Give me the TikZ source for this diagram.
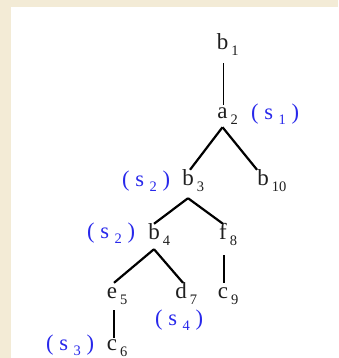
\documentclass[tikz,border=0pt]{standalone}
\usepackage{fontspec}
\setmainfont{Liberation Serif}
\definecolor{bgbeige}{RGB}{243,235,214}
\definecolor{lblblue}{RGB}{40,40,235}
\newcommand\tsub[1]{\rlap{\hspace{3pt}\raisebox{-6pt}{\fontsize{14.5}{14.5}\selectfont #1}}}
\newcommand\slab[1]{( s \raisebox{-5pt}{\fontsize{14.5}{14.5}\selectfont #1} )}
\begin{document}
\begin{tikzpicture}[x=1pt,y=-1pt,
  tnode/.style={font=\fontsize{23}{23}\selectfont, text=black!88, inner sep=0pt, text height=15pt, text depth=0pt, anchor=base},
  snode/.style={font=\fontsize{22.5}{22.5}\selectfont, text=lblblue, inner sep=0pt, anchor=base west},
  diag/.style={line width=2.2pt},
  vert/.style={line width=1.4pt}]
\fill[bgbeige] (0,0) rectangle (338,358);
\fill[white] (11,7) rectangle (338,358);
\useasboundingbox (0,0) rectangle (338,358);
% tree nodes
\node[tnode] (b1) at (222.5,50) {b\tsub{1}};
\node[tnode] (a2) at (222.5,119) {a\tsub{2}};
\node[tnode] (b3) at (188,185) {b\tsub{3}};
\node[tnode] (b10) at (263,185) {b\tsub{10}};
\node[tnode] (b4) at (154,239) {b\tsub{4}};
\node[tnode] (f8) at (223,239) {f\tsub{8}};
\node[tnode] (e5) at (112,298) {e\tsub{5}};
\node[tnode] (d7) at (181,298) {d\tsub{7}};
\node[tnode] (c9) at (223,298) {c\tsub{9}};
\node[tnode] (c6) at (112,350) {c\tsub{6}};
% blue labels
\node[snode] (s1) at (251,120) {\slab{1}};
\node[snode] (s2a) at (122,186) {\slab{2}};
\node[snode] (s2b) at (87,238) {\slab{2}};
\node[snode] (s4) at (155,325) {\slab{4}};
\node[snode] (s3) at (46,350) {\slab{3}};
% connectors
\draw[vert] ([xshift=1pt,yshift=-13pt]b1.south) -- ([xshift=1pt,yshift=-1pt]a2.north);
\draw[diag] ([yshift=-8pt]a2.south) -- ([xshift=2pt]b3.north);
\draw[diag] ([yshift=-8pt]a2.south) -- (b10.north west);
\draw[diag] ([yshift=-13pt]b3.south) -- (b4.north);
\draw[diag] ([yshift=-13pt]b3.south) -- (f8.north);
\draw[diag] ([yshift=-10pt]b4.south) -- ([xshift=2pt]e5.north);
\draw[diag] ([yshift=-10pt]b4.south) -- ([xshift=2pt]d7.north);
\draw[vert] ([xshift=1pt,yshift=-16pt]f8.south) -- ([xshift=1pt]c9.north);
\draw[vert] ([xshift=2pt,yshift=-12pt]e5.south) -- ([xshift=2pt,yshift=-3pt]c6.north);
\end{tikzpicture}
\end{document}
